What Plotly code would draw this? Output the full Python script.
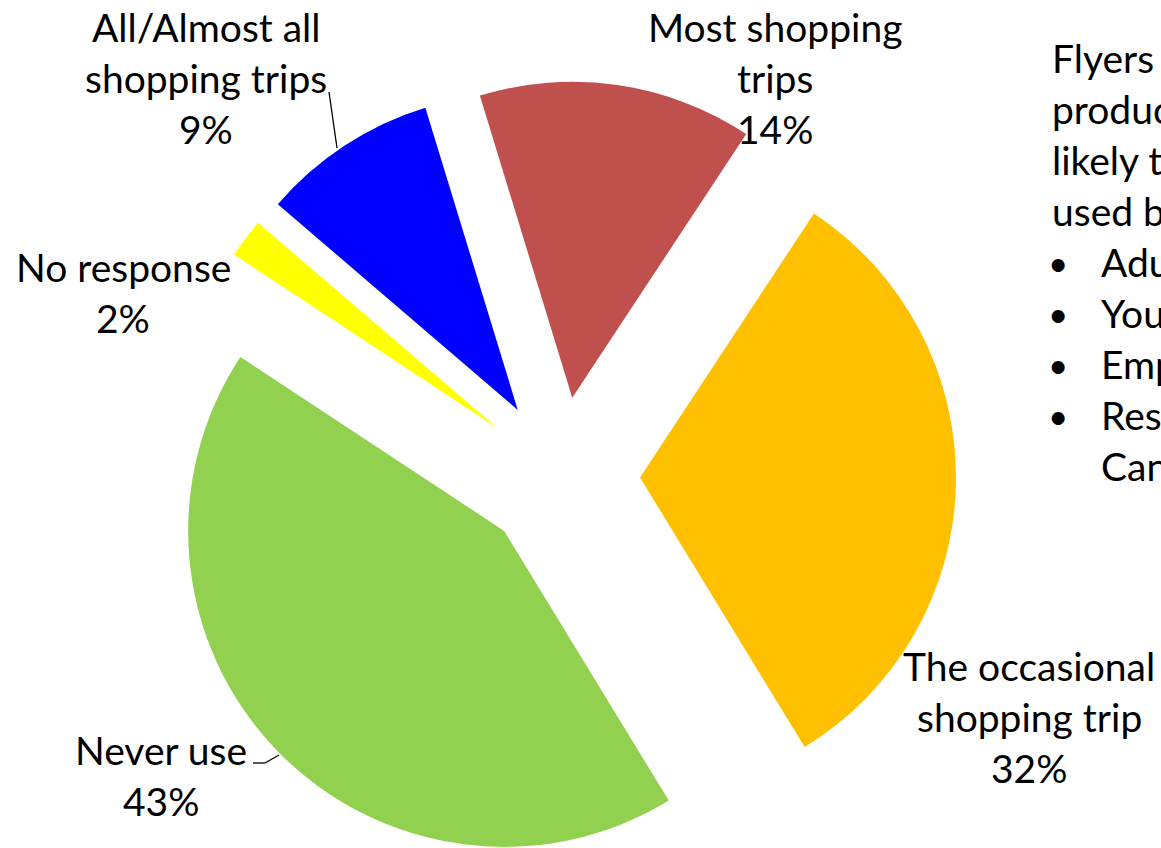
import math
import plotly.graph_objects as go

# Survey shares (percent of respondents) for how often flyers are used
categories = [
    "Most shopping trips",
    "The occasional shopping trip",
    "Never use",
    "No response",
    "All/Almost all shopping trips",
]
shares = [14, 32, 43, 2, 9]
slice_colors = ["#C0504D", "#FFC000", "#92D050", "#FFFF00", "#0000FF"]
explode = [0.25, 0.25, 0.25, 0.25, 0.25]

# How each category name is broken over lines in its label
label_name_lines = [
    ["Most shopping", "trips"],
    ["The occasional", "shopping trip"],
    ["Never use"],
    ["No response"],
    ["All/Almost all", "shopping trips"],
]

# Side note (runs past the right edge of the canvas)
note_lines = ["Flyers", "products", "likely to be", "used by:"]
note_bullets = ["Adults", "Youth", "Employed", "Residents of", "Canada"]

# ---- layout geometry (pixels) ----
W, H = 1161, 848
CX, CY = 561, 476      # centre of the un-exploded pie
R = 316                # pie radius
ROTATION = -17         # start angle of the first slice, clockwise from 12 o'clock
FONT = "Lato"
FS = 39

label_anchor_px = [
    (775, 27),
    (1029, 666),
    (161, 750),
    (123, 267),
    (206, 27),
]
LINE_STEP = 51


def px_x(x):
    return x / W


def px_y(y):
    return 1 - y / H


fig = go.Figure()

total = sum(shares)
cum = 0.0
for i, v in enumerate(shares):
    mid = math.radians(ROTATION + 360.0 * (cum + v / 2.0) / total)
    cum += v
    off = explode[i] * R
    ax = CX + off * math.sin(mid)
    ay = CY - off * math.cos(mid)
    colors = [c if j == i else "rgba(0,0,0,0)" for j, c in enumerate(slice_colors)]
    fig.add_trace(
        go.Pie(
            values=shares,
            labels=categories,
            sort=False,
            direction="clockwise",
            rotation=ROTATION,
            marker=dict(colors=colors, line=dict(width=0)),
            textinfo="none",
            hoverinfo="label+percent",
            showlegend=False,
            domain=dict(
                x=[max(0, (ax - R) / W), min(1, (ax + R) / W)],
                y=[max(0, (H - ay - R) / H), min(1, (H - ay + R) / H)],
            ),
        )
    )

annotations = []
for i, v in enumerate(shares):
    lines = label_name_lines[i] + [f"{v}%"]
    x0, y0 = label_anchor_px[i]
    for k, line in enumerate(lines):
        annotations.append(
            dict(
                x=px_x(x0), y=px_y(y0 + k * LINE_STEP),
                xref="paper", yref="paper",
                text=line, showarrow=False,
                xanchor="center", yanchor="middle",
                font=dict(family=FONT, size=FS, color="black"),
            )
        )

# side note
NOTE_X = 1050
NOTE_Y0 = 58
for k, line in enumerate(note_lines):
    annotations.append(
        dict(
            x=px_x(NOTE_X), y=px_y(NOTE_Y0 + k * LINE_STEP),
            xref="paper", yref="paper", text=line, showarrow=False,
            xanchor="left", yanchor="middle",
            font=dict(family=FONT, size=FS, color="black"),
        )
    )
row = len(note_lines)
for k, item in enumerate(note_bullets):
    y = NOTE_Y0 + (row + k) * LINE_STEP
    continuation = k == len(note_bullets) - 1
    if not continuation:
        annotations.append(
            dict(
                x=px_x(1058), y=px_y(y), xref="paper", yref="paper",
                text="•", showarrow=False, xanchor="center", yanchor="middle",
                font=dict(family=FONT, size=FS - 4, color="black"),
            )
        )
    annotations.append(
        dict(
            x=px_x(1099), y=px_y(y), xref="paper", yref="paper",
            text=item, showarrow=False, xanchor="left", yanchor="middle",
            font=dict(family=FONT, size=FS, color="black"),
        )
    )

# leader lines
leaders = [
    [(329, 92), (337, 148)],
    [(253, 763), (265, 763), (279, 755)],
]
shapes = []
for pts in leaders:
    for (x0, y0), (x1, y1) in zip(pts[:-1], pts[1:]):
        shapes.append(
            dict(
                type="line", xref="paper", yref="paper",
                x0=px_x(x0), y0=px_y(y0), x1=px_x(x1), y1=px_y(y1),
                line=dict(color="black", width=1.3),
            )
        )

fig.update_layout(
    width=W, height=H,
    margin=dict(l=0, r=0, t=0, b=0),
    paper_bgcolor="white",
    plot_bgcolor="white",
    annotations=annotations,
    shapes=shapes,
    showlegend=False,
)

fig.write_html("out.html")
